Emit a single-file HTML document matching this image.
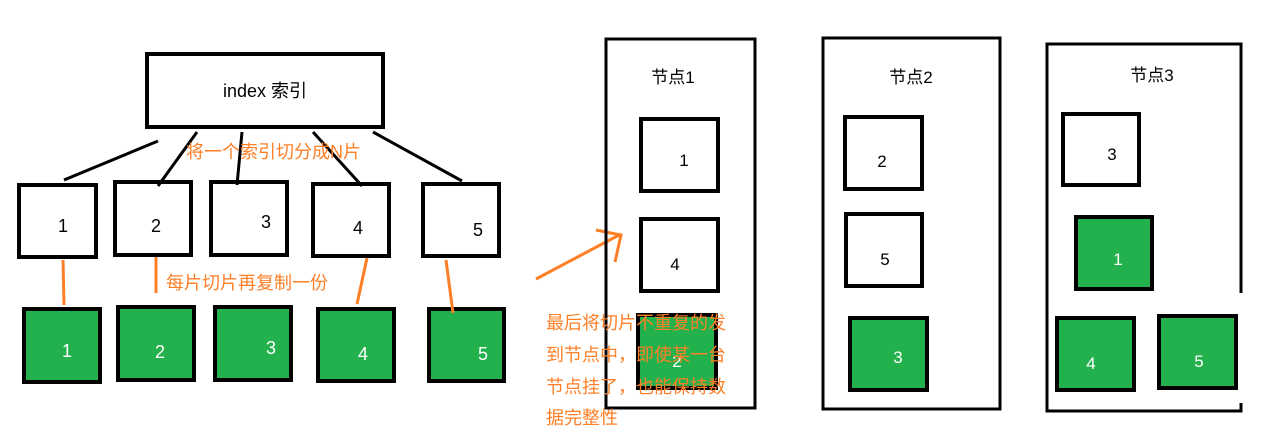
<!DOCTYPE html>
<html><head><meta charset="utf-8"><style>
html,body{margin:0;padding:0;background:#fff;width:1274px;height:446px;overflow:hidden}
svg{display:block}
text{font-family:"Liberation Sans","Noto Sans CJK SC",sans-serif}
</style></head><body>
<svg width="1274" height="446" viewBox="0 0 1274 446" xmlns="http://www.w3.org/2000/svg">
<g fill="#fff" stroke="#000" stroke-width="4">
<rect x="147" y="54" width="236" height="73"/>
<rect x="19" y="185" width="77" height="72"/>
<rect x="115" y="182" width="76" height="73"/>
<rect x="211" y="182" width="76" height="73"/>
<rect x="313" y="184" width="76" height="72"/>
<rect x="423" y="184" width="76" height="72"/>
</g>
<g fill="#22b14c" stroke="#000" stroke-width="4">
<rect x="24" y="309" width="76" height="73"/>
<rect x="118" y="307" width="76" height="73"/>
<rect x="215" y="307" width="76" height="73"/>
<rect x="318" y="309" width="76" height="72"/>
<rect x="429" y="309" width="75" height="72"/>
</g>
<g stroke="#000" stroke-width="3" fill="none">
<line x1="158" y1="141" x2="64" y2="180"/>
<line x1="197" y1="132" x2="158" y2="186"/>
<line x1="242" y1="132" x2="237" y2="185"/>
<line x1="313" y1="132" x2="362" y2="186"/>
<line x1="373" y1="132" x2="462" y2="181"/>
</g>
<g stroke="#ff7f27" stroke-width="3" fill="none">
<line x1="63" y1="260" x2="64" y2="305"/>
<line x1="156" y1="257" x2="156" y2="293"/>
<line x1="367" y1="258" x2="357" y2="304"/>
<line x1="446" y1="260" x2="453" y2="313"/>
<line x1="536" y1="279" x2="621" y2="234"/>
<polyline points="596,230 621,235 615,262"/>
</g>
<g font-size="18" text-anchor="middle" fill="#000">
<text x="265" y="97">index 索引</text>
<text x="63" y="232">1</text>
<text x="156" y="232">2</text>
<text x="266" y="228">3</text>
<text x="358" y="234">4</text>
<text x="478" y="236">5</text>
</g>
<g font-size="18" text-anchor="middle" fill="#fff">
<text x="67" y="357">1</text>
<text x="160" y="358">2</text>
<text x="271" y="354">3</text>
<text x="363" y="360">4</text>
<text x="483" y="360">5</text>
</g>
<g fill="#ff7f27" font-size="18">
<text x="186" y="158">将一个索引切分成N片</text>
<text x="166" y="289">每片切片再复制一份</text>
</g>
<g fill="none" stroke="#000" stroke-width="3">
<rect x="606" y="39" width="149" height="369"/>
<rect x="823" y="38" width="177" height="371"/>
<polyline points="1241,293 1241,44 1047,44 1047,411 1241,411 1241,403"/>
</g>
<g fill="#fff" stroke="#000" stroke-width="4">
<rect x="641" y="119" width="77" height="72"/>
<rect x="641" y="219" width="77" height="72"/>
<rect x="845" y="117" width="77" height="72"/>
<rect x="846" y="214" width="76" height="72"/>
<rect x="1063" y="114" width="76" height="71"/>
</g>
<g fill="#22b14c" stroke="#000" stroke-width="4">
<rect x="638" y="315" width="78" height="73"/>
<rect x="850" y="318" width="77" height="72"/>
<rect x="1076" y="217" width="76" height="72"/>
<rect x="1057" y="318" width="77" height="72"/>
<rect x="1159" y="316" width="77" height="72"/>
</g>
<g font-size="17" text-anchor="middle" fill="#000">
<text x="673" y="83">节点1</text>
<text x="911" y="83">节点2</text>
<text x="1152" y="81">节点3</text>
<text x="684" y="166">1</text>
<text x="675" y="270">4</text>
<text x="882" y="167">2</text>
<text x="885" y="265">5</text>
<text x="1112" y="160">3</text>
</g>
<g font-size="17" text-anchor="middle" fill="#fff">
<text x="677" y="367">2</text>
<text x="898" y="363">3</text>
<text x="1118" y="265">1</text>
<text x="1091" y="369">4</text>
<text x="1199" y="367">5</text>
</g>
<g fill="#ff7f27" font-size="18">
<text x="546" y="329">最后将切片不重复的发</text>
<text x="546" y="361">到节点中，即使某一台</text>
<text x="546" y="393">节点挂了，也能保持数</text>
<text x="546" y="424">据完整性</text>
</g>
</svg>
</body></html>
